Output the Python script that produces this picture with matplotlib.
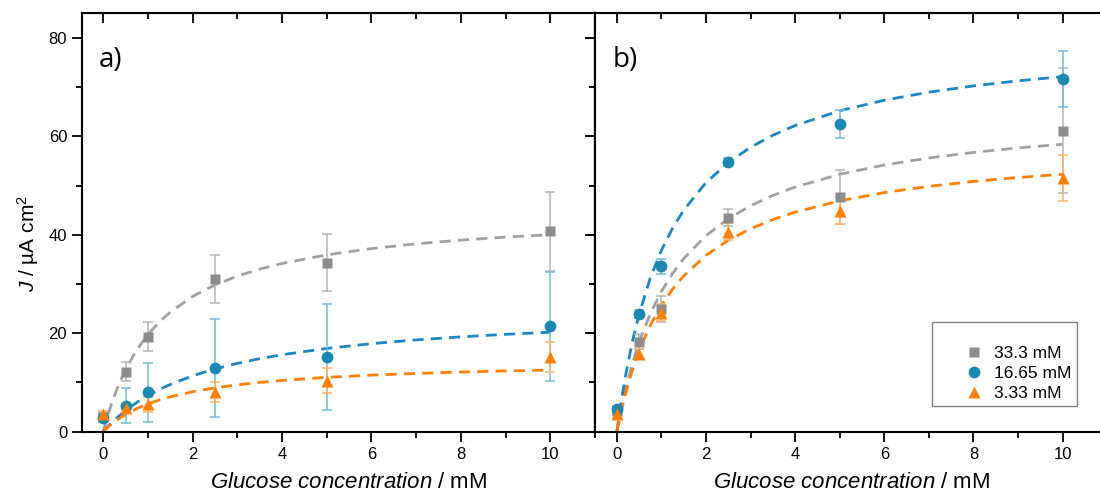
import numpy as np
import matplotlib
matplotlib.use('Agg')
import matplotlib.pyplot as plt
from matplotlib.ticker import MultipleLocator
from matplotlib.legend_handler import HandlerLine2D

plt.rcParams['font.family'] = ['Liberation Sans', 'DejaVu Sans']
plt.rcParams['mathtext.fontset'] = 'custom'
plt.rcParams['mathtext.rm'] = 'Liberation Sans'
plt.rcParams['mathtext.it'] = 'Liberation Sans:italic'

# measured points (glucose conc. in mM)
conc = [0, 0.5, 1, 2.5, 5, 10]
SERIES = ['33.3 mM', '16.65 mM', '3.33 mM']

# panel a
a_gray = [3.0, 12.2, 19.3, 31.0, 34.3, 40.7]
a_gray_err = [0.8, 2.0, 2.9, 4.9, 5.8, 8.0]
a_blue = [2.7, 5.3, 8.0, 12.9, 15.2, 21.4]
a_blue_err = [0.8, 3.6, 6.0, 10.0, 10.7, 11.0]
a_orange = [3.6, 4.9, 5.6, 8.1, 10.4, 15.2]
a_orange_err = [0.6, 1.0, 1.5, 2.0, 2.6, 3.1]

# panel b
b_gray = [4.3, 18.3, 24.9, 43.5, 47.6, 61.1]
b_gray_err = [0.8, 1.5, 2.7, 1.7, 5.5, 12.7]
b_blue = [4.7, 23.9, 33.6, 54.8, 62.5, 71.6]
b_blue_err = [0.6, 0.8, 1.5, 0.8, 2.8, 5.7]
b_orange = [3.6, 15.8, 24.2, 40.6, 44.9, 51.6]
b_orange_err = [0.8, 1.0, 1.8, 1.7, 2.7, 4.7]

# fitted curves (dashed)
fit_x = [0, 0.1, 0.2, 0.35, 0.5, 0.75, 1, 1.25, 1.5, 2, 2.5, 3, 3.5, 4, 5, 6, 7, 8, 9, 10]
a_gray_fit = [0, 3.25, 6.07, 9.65, 12.63, 16.62, 19.74, 22.24, 24.30, 27.48, 29.82,
              31.61, 33.03, 34.18, 35.93, 37.20, 38.17, 38.92, 39.53, 40.04]
a_blue_fit = [0, 1.00, 1.92, 3.17, 4.30, 5.94, 7.34, 8.55, 9.60, 11.36, 12.75,
              13.89, 14.84, 15.64, 16.91, 17.89, 18.65, 19.27, 19.78, 20.21]
a_orange_fit = [0, 0.87, 1.64, 2.64, 3.50, 4.69, 5.64, 6.43, 7.08, 8.12, 8.91,
                9.52, 10.01, 10.41, 11.04, 11.49, 11.84, 12.12, 12.35, 12.53]
b_gray_fit = [0, 4.65, 8.70, 13.85, 18.16, 23.95, 28.49, 32.15, 35.16, 39.82, 43.26,
              45.90, 48.00, 49.70, 52.29, 54.18, 55.61, 56.74, 57.65, 58.39]
b_blue_fit = [0, 6.26, 11.61, 18.34, 23.88, 31.20, 36.85, 41.34, 45.00, 50.60, 54.67,
              57.78, 60.22, 62.20, 65.19, 67.34, 68.97, 70.25, 71.28, 72.12]
b_orange_fit = [0, 4.22, 7.88, 12.54, 16.42, 21.62, 25.70, 28.97, 31.66, 35.82, 38.88,
                41.23, 43.09, 44.60, 46.90, 48.58, 49.84, 50.84, 51.64, 52.30]

MARKER_C = ['#8c8c8c', '#1b88b2', '#ff7f00']
ERR_C = ['#b4b4b4', '#72bcd8', '#ffb466']
FIT_C = ['#a0a0a0', '#1c86c4', '#ff8000']
MARKERS = ['s', 'o', '^']
MSIZE = [7, 8.5, 8.5]

fig = plt.figure(figsize=(11, 4.94), dpi=100)
ax_a = fig.add_axes([0.0743, 0.1261, 0.5409 - 0.0743, 0.9731 - 0.1261])
ax_b = fig.add_axes([0.5409, 0.1261, 1.0 - 0.5409, 0.9731 - 0.1261])

panels = [
    (ax_a, 'a)', [a_gray, a_blue, a_orange], [a_gray_err, a_blue_err, a_orange_err],
     [a_gray_fit, a_blue_fit, a_orange_fit], (-0.48, 11.0), 0.5195),
    (ax_b, 'b)', [b_gray, b_blue, b_orange], [b_gray_err, b_blue_err, b_orange_err],
     [b_gray_fit, b_blue_fit, b_orange_fit], (-0.49, 10.84), 0.509),
]

for ax, tag, ys, errs, fits, xl, xlab_x in panels:
    for i in range(3):
        ax.plot(fit_x, fits[i], ls=(0, (4, 2.6)), lw=2, color=FIT_C[i], zorder=2)
    for i in range(3):
        ax.errorbar(conc, ys[i], yerr=errs[i], fmt='none', ecolor=ERR_C[i],
                    elinewidth=1.1, capsize=3.5, capthick=1.1, zorder=3)
    for i in range(3):
        ax.plot(conc, ys[i], ls='none', marker=MARKERS[i], ms=MSIZE[i],
                color=MARKER_C[i], mec='none', label=SERIES[i], zorder=4)
    ax.set_xlim(*xl)
    ax.set_ylim(0, 85)
    ax.xaxis.set_major_locator(MultipleLocator(2))
    ax.xaxis.set_minor_locator(MultipleLocator(1))
    ax.yaxis.set_major_locator(MultipleLocator(20))
    ax.yaxis.set_minor_locator(MultipleLocator(10))
    ax.tick_params(which='both', direction='out', labelsize=12, width=1.3)
    ax.tick_params(axis='x', which='both', pad=4)
    ax.tick_params(which='major', length=7)
    ax.tick_params(which='minor', length=4)
    for sp in ax.spines.values():
        sp.set_linewidth(1.5)
    ax.set_xlabel('$\\it{Glucose\\ concentration}$ / mM', fontsize=16, va='center')
    ax.xaxis.set_label_coords(xlab_x, -0.122)
    ax.text(-0.1, 75.6, tag, fontsize=20, ha='left', va='center',
            family=['Open Sans', 'DejaVu Sans'])

    # mirrored top ticks, pointing inward
    top = ax.secondary_xaxis('top')
    top.xaxis.set_major_locator(MultipleLocator(2))
    top.xaxis.set_minor_locator(MultipleLocator(1))
    top.tick_params(which='both', direction='in', labeltop=False, width=1.3)
    top.tick_params(which='major', length=7)
    top.tick_params(which='minor', length=4)
    top.spines['top'].set_linewidth(1.5)

# right ticks of panel a, pointing inward
right = ax_a.secondary_yaxis('right')
right.yaxis.set_major_locator(MultipleLocator(20))
right.yaxis.set_minor_locator(MultipleLocator(10))
right.tick_params(which='both', direction='in', labelright=False, width=1.3)
right.tick_params(which='major', length=7)
right.tick_params(which='minor', length=4)
right.spines['right'].set_linewidth(1.5)

ax_a.set_ylabel('$J$ / µA cm$^2$', fontsize=15, va='center')
ax_a.yaxis.set_label_coords(-0.104, 0.451)
ax_b.tick_params(axis='y', which='both', labelleft=False)
ax_b.spines['right'].set_visible(False)

leg = ax_b.legend(loc='lower right', bbox_to_anchor=(0.9545, 0.0614), fontsize=12.5,
                  title=' ', title_fontsize=10, frameon=True, fancybox=False,
                  borderaxespad=0, handletextpad=0.4, borderpad=0.3,
                  labelspacing=0.28, handlelength=2.92, framealpha=1,
                  handler_map={plt.Line2D: HandlerLine2D(xpad=1.31)})
leg.get_frame().set_edgecolor('#808080')
leg.get_frame().set_linewidth(1.0)

fig.savefig('out.png', dpi=100)
